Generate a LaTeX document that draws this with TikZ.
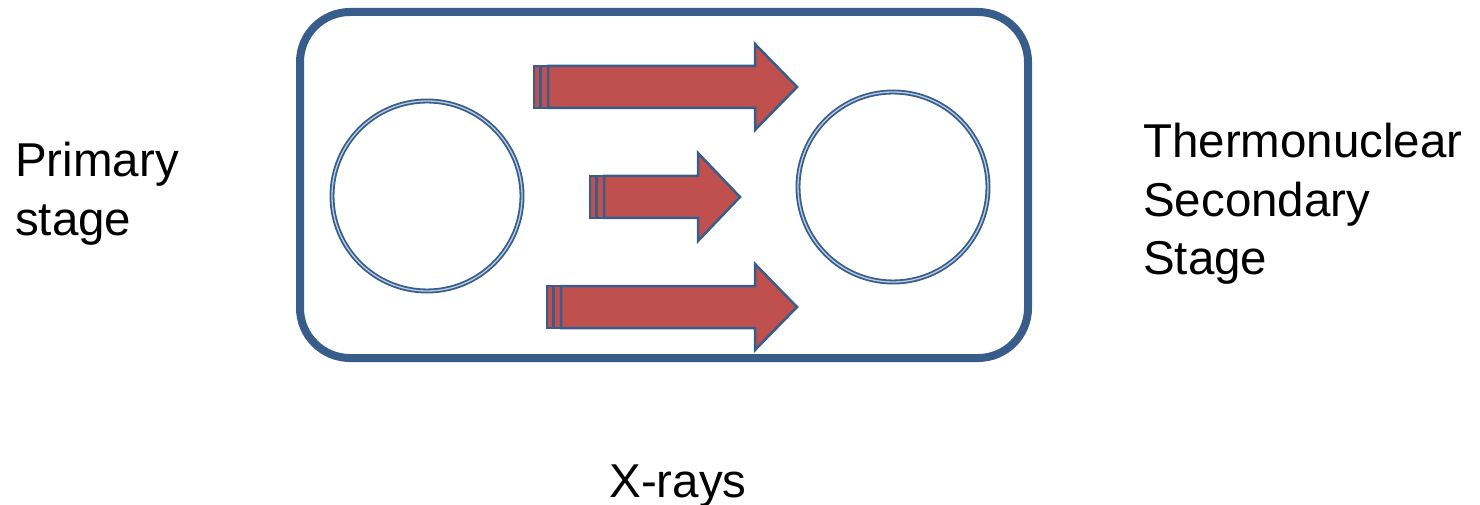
\documentclass[tikz,border=0pt]{standalone}
\usepackage{fontspec}
\setmainfont{Liberation Sans}
\definecolor{boxblue}{HTML}{385D8A}
\definecolor{arrred}{HTML}{C0504D}
\definecolor{lightblue}{HTML}{B9CDE5}
\tikzset{
  frame/.style={draw=boxblue, line width=8pt, rounded corners=50pt},
  ring/.style={circle, draw=boxblue, double=lightblue, double distance=1.3pt, line width=1.8pt, minimum size=190pt, inner sep=0pt},
  arrbody/.style={fill=arrred, draw=boxblue, line width=2.5pt, line join=miter},
  label/.style={font=\fontsize{47.5}{57}\selectfont, inner sep=0pt, anchor=base west},
}
\begin{document}
\begin{tikzpicture}[x=1pt,y=-1pt]
\useasboundingbox (0,0) rectangle (1480,505);
% frame
\draw[frame] (300,12) rectangle (1028,358);
% circles
\node[ring] (prim) at (427,196) {};
\node[ring] (sec) at (893,187) {};
% arrows
\foreach \y/\h/\hb/\ht/\tx/\bx/\ex in {87/21/755/43/534/548/797, 197/21/698/44/590/604/740, 307/21/755/43/547/561/797}{
  \fill[arrred, draw=boxblue, line width=1.2pt] (\tx,\y-\h) rectangle (\tx+6,\y+\h);
  \fill[arrred, draw=boxblue, line width=1.2pt] (\tx+7,\y-\h) rectangle (\bx,\y+\h);
  \draw[arrbody] (\bx,\y-\h) -- (\hb,\y-\h) -- (\hb,\y-\ht) -- (\ex,\y) -- (\hb,\y+\ht) -- (\hb,\y+\h) -- (\bx,\y+\h) -- cycle;
}
% labels
\node[label] (p1) at (15,177) {Primary};
\node[label] (p2) at (15,235) {stage};
\node[label] (s1) at (1143,158) {Thermonuclear};
\node[label] (s2) at (1143,216) {Secondary};
\node[label] (s3) at (1143,274) {Stage};
\node[label, anchor=base] (xr) at (678,497) {X-rays};
\end{tikzpicture}
\end{document}
